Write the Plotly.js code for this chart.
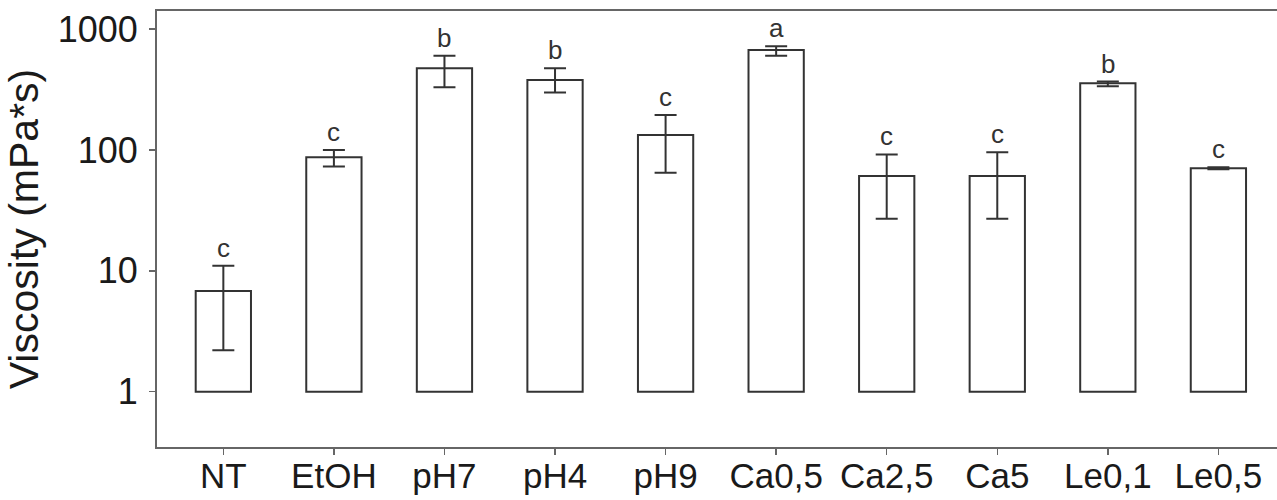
<!DOCTYPE html>
<html>
<head>
<meta charset="utf-8">
<script src="https://cdn.plot.ly/plotly-3.0.1.min.js"></script>
<style>html,body{margin:0;padding:0;background:#fff;}#chart{width:1277px;height:500px;}</style>
</head>
<body>
<div id="chart"></div>
<script>
const categories = ['NT','EtOH','pH7','pH4','pH9','Ca0,5','Ca2,5','Ca5','Le0,1','Le0,5'];
const viscosity  = [6.8, 87, 475, 380, 133, 674, 61, 61, 357, 70.7];
const errPlus    = [4.2, 13, 129, 95, 62, 49, 31, 35, 12, 1.2];
const errMinus   = [4.6, 14, 144, 81, 68, 70, 34, 34, 20, 1.2];
const letters    = ['c','c','b','b','c','a','c','c','b','c'];
const yTickVals  = [1, 10, 100, 1000];
const yTickText  = ['1', '10', '100', '1000'];
const barBase = 1;

const font = 'Liberation Sans, Arial, sans-serif';
const dark = '#333333';

const bars = {
  type: 'bar',
  x: categories,
  y: viscosity.map(v => v - barBase),
  base: categories.map(() => barBase),
  width: 0.5,
  marker: {color: 'rgba(255,255,255,0)', line: {color: dark, width: 2}},
  hoverinfo: 'skip',
  showlegend: false
};

const errs = {
  type: 'scatter',
  mode: 'markers',
  x: categories,
  y: viscosity,
  marker: {size: 1, color: 'rgba(0,0,0,0)'},
  error_y: {type: 'data', symmetric: false, array: errPlus, arrayminus: errMinus,
            color: dark, thickness: 2, width: 11},
  showlegend: false,
  hoverinfo: 'skip'
};

const annotations = categories.map((c, i) => ({
  x: c,
  y: Math.log10(viscosity[i] + errPlus[i]),
  xref: 'x', yref: 'y',
  text: letters[i],
  showarrow: false,
  yanchor: 'middle',
  yshift: 18,
  font: {family: font, size: 26, color: dark}
}));

const layout = {
  width: 1277, height: 500,
  margin: {l: 157, r: 0, t: 11, b: 53},
  paper_bgcolor: '#ffffff',
  plot_bgcolor: '#ffffff',
  showlegend: false,
  xaxis: {
    type: 'category',
    range: [-0.6, 9.53],
    showline: true, mirror: true, linecolor: '#666666', linewidth: 2,
    ticks: 'outside', ticklen: 6, tickwidth: 1.5, tickcolor: '#666666',
    showgrid: false, zeroline: false,
    tickfont: {family: font, size: 35, color: '#1a1a1a'},
    ticklabelstandoff: -9
  },
  yaxis: {
    type: 'log',
    range: [-0.458, 3.151],
    tickvals: yTickVals, ticktext: yTickText,
    showline: true, mirror: false, linecolor: '#666666', linewidth: 2,
    ticks: 'outside', ticklen: 6, tickwidth: 1.5, tickcolor: '#666666',
    showgrid: false, zeroline: false,
    tickfont: {family: font, size: 36, color: '#1a1a1a'},
    ticklabelstandoff: 4,
    title: {text: 'Viscosity (mPa*s)', font: {family: font, size: 41, color: '#1a1a1a'}, standoff: 6}
  },
  annotations: annotations
};

Plotly.newPlot('chart', [bars, errs], layout, {displayModeBar: false, staticPlot: true});
</script>
</body>
</html>
